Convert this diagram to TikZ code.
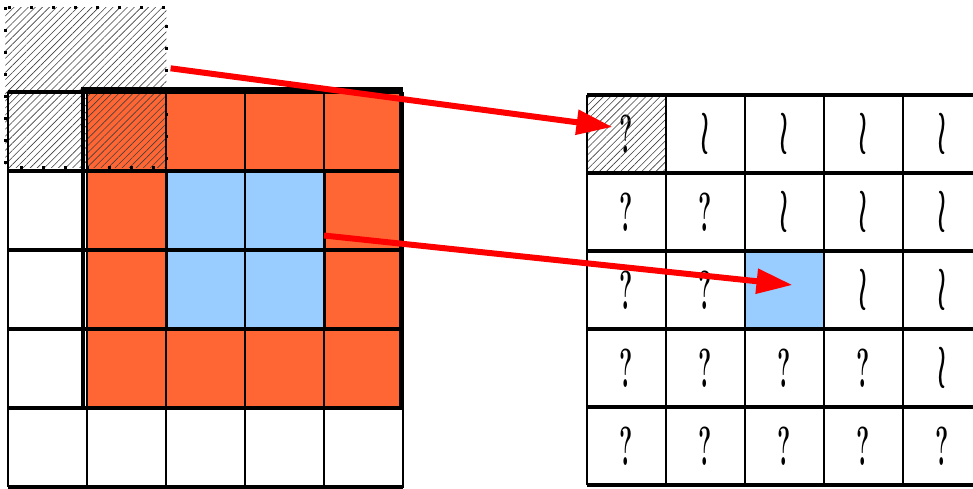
\documentclass[tikz,border=0pt]{standalone}
\usepackage{graphicx}
\usetikzlibrary{arrows.meta,patterns.meta}

\definecolor{cellorange}{HTML}{FF6633}
\definecolor{cellblue}{HTML}{99CCFF}

% glyphs printed in the output cells
\newcommand{\qglyph}{\scalebox{0.5}[1.1]{\fontsize{50}{50}\selectfont\bfseries ?}}
\newcommand{\sglyph}{\scalebox{1.4}[3]{\fontsize{20}{20}\selectfont\boldmath$\wr$}}

\tikzset{
  cell/.style={draw=black, line width=1pt, minimum width=79pt, inner sep=0pt, outer sep=0pt, anchor=north west},
  hatch/.style={pattern={Lines[angle=45,distance=5pt,line width=0.6pt]}, pattern color=black!75},
  dotframe/.style={line width=3pt, dash pattern=on 3pt off 19pt},
  gridh/.style={line width=4.5pt},
  gridv/.style={line width=2.5pt},
  movearrow/.style={red, line width=6pt, -{Triangle[length=36pt,width=24pt]}},
}

\begin{document}
\begin{tikzpicture}[x=1pt,y=-1pt]
\useasboundingbox (0,0) rectangle (973,488);

% input grid
\foreach \r in {1,...,5}
  \foreach \c in {1,...,5}{
    \def\fillc{white}
    \ifnum\r<5 \ifnum\c>1 \def\fillc{cellorange}\fi\fi
    \ifnum\r>1 \ifnum\r<4 \ifnum\c>2 \ifnum\c<5 \def\fillc{cellblue}\fi\fi\fi\fi
    \node[cell, fill=\fillc, minimum height=79pt] (L-\r-\c) at ({8+79*(\c-1)},{92+79*(\r-1)}) {};
  }

% sliding window
\node[hatch, minimum width=161pt, minimum height=160pt, inner sep=0pt, anchor=north west] (win) at (5,7) {};

\foreach \r in {1,...,5}
  \draw[gridh] (L-\r-1.north west) -- (L-\r-5.north east);
\draw[gridh] (L-5-1.south west) -- (L-5-5.south east);
\foreach \c in {1,...,5}
  \draw[gridv] (L-1-\c.north west) -- (L-5-\c.south west);
\draw[gridv] (L-1-5.north east) -- (L-5-5.south east);

\draw[line width=4pt] ([shift={(-4,-3)}]L-1-2.north west) rectangle ([shift={(-2,0)}]L-4-5.south east);
\draw[line width=3pt] (L-2-3.north west) rectangle (L-3-4.south east);

\draw[dotframe] (win.north west) rectangle (win.south east);

% output grid
\foreach \r/\k in {1/1,2/2,3/2,4/4,5/5}
  \foreach \c in {1,...,5}{
    \def\fillc{white}
    \ifnum\c>\k \def\glyph{\sglyph}\else \def\glyph{\qglyph}\fi
    \ifnum\r=3 \ifnum\c=3 \def\fillc{cellblue}\def\glyph{}\fi\fi
    \node[cell, fill=\fillc, minimum height=78pt] (R-\r-\c) at ({587+79*(\c-1)},{95+78*(\r-1)}) {\glyph};
  }
\node[hatch, minimum width=79pt, minimum height=78pt, inner sep=0pt] at (R-1-1.center) {};

\foreach \r in {1,...,5}
  \draw[gridh] (R-\r-1.north west) -- (R-\r-5.north east);
\draw[gridh] (R-5-1.south west) -- (R-5-5.south east);
\foreach \c in {1,...,5}
  \draw[gridv] (R-1-\c.north west) -- (R-5-\c.south west);

% mapping arrows
\draw[movearrow] ([shift={(4,-19)}]win.east) -- ([shift={(-14,-7)}]R-1-1.center);
\draw[movearrow] ([shift={(0,25)}]L-2-4.east) -- ([shift={(8,-5)}]R-3-3.center);
\end{tikzpicture}
\end{document}
